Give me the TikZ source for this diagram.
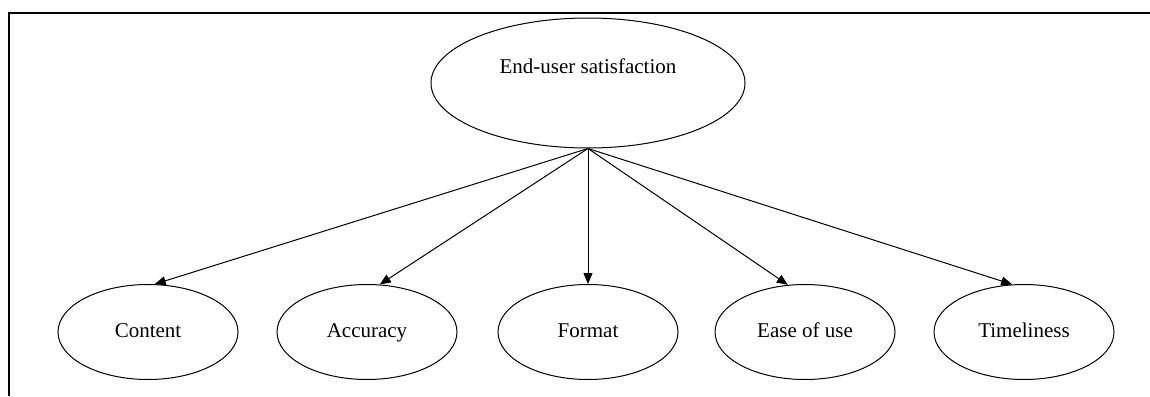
\documentclass[tikz,border=0pt]{standalone}
\usepackage{fontspec}
\setmainfont{Liberation Serif}
\usetikzlibrary{shapes.geometric, arrows.meta}

\begin{document}
\begin{tikzpicture}[x=0.5pt, y=-0.5pt,
  factor/.style={draw, ellipse, line width=0.5pt, minimum width=90pt, minimum height=47.5pt, inner sep=0pt, text height=7pt, text depth=2pt, font=\fontsize{10.5}{12}\selectfont},
  link/.style={-{Triangle[length=5.5pt, width=4.5pt]}, line width=0.5pt}]
  \useasboundingbox (0,0) rectangle (1150,396);

  % Frame
  \draw[line width=0.75pt] (9,396) -- (9,13) -- (1150,13);

  % Top construct
  \node[factor, minimum width=157pt, minimum height=65pt, text depth=17pt] (sat) at (588,83) {End-user satisfaction};

  % Dimensions
  \node[factor] (content) at (148,332) {Content};
  \node[factor] (accuracy) at (367,332) {Accuracy};
  \node[factor] (format) at (588,332) {Format};
  \node[factor] (ease) at (805,332) {Ease of use};
  \node[factor] (timeliness) at (1024,332) {Timeliness};

  % Arrows
  \draw[link] (sat.south) -- (content.82);
  \draw[link] (sat.south) -- (accuracy.75);
  \draw[link] (sat.south) -- (format.north);
  \draw[link] (sat.south) -- (ease.110);
  \draw[link] (sat.south) -- (timeliness.104);
\end{tikzpicture}
\end{document}
